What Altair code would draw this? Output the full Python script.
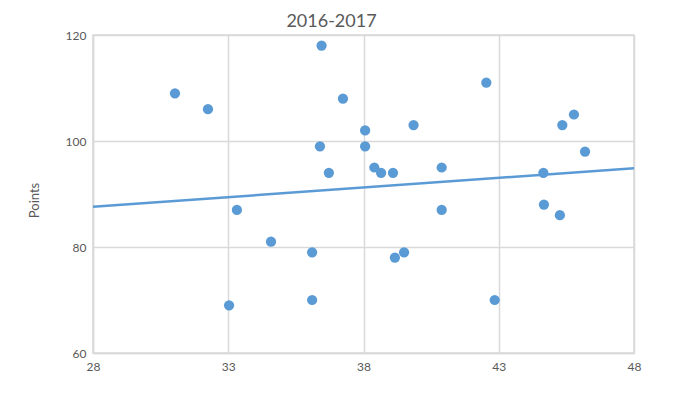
import altair as alt
import pandas as pd

# Scatter data
age = [31.03, 32.25, 33.03, 33.32, 34.58, 36.1, 36.1, 36.45, 36.39, 36.72,
       37.24, 38.06, 38.06, 38.4, 38.65, 39.09, 39.16, 39.5, 39.85, 40.89,
       40.89, 42.54, 42.85, 44.65, 44.67, 45.26, 45.35, 45.78, 46.19]
points = [109, 106, 69, 87, 81, 79, 70, 118, 99, 94,
          108, 102, 99, 95, 94, 94, 78, 79, 103, 95,
          87, 111, 70, 94, 88, 86, 103, 105, 98]

# Linear trend line endpoints
trend_x = [28, 48]
trend_y = [87.6, 94.85]

x_ticks = [28, 33, 38, 43, 48]
y_ticks = [60, 80, 100, 120]

df = pd.DataFrame({"x": age, "y": points})
tdf = pd.DataFrame({"x": trend_x, "y": trend_y})

BLUE = "#5b9bd5"
GRID = "#d9d9d9"
TXT = "#595959"
FONT = "Lato"

xenc = alt.X("x:Q",
             scale=alt.Scale(domain=[28, 48], nice=False, zero=False),
             axis=alt.Axis(values=x_ticks, title=None, grid=True, gridColor=GRID,
                           gridWidth=1.5, domainColor=GRID, domainWidth=1.5,
                           ticks=False, labelPadding=8,
                           labelFlush=False, labelColor=TXT, labelFont=FONT,
                           labelFontSize=12))
yenc = alt.Y("y:Q",
             scale=alt.Scale(domain=[60, 120], nice=False, zero=False),
             axis=alt.Axis(values=y_ticks, title="Points", grid=True, gridColor=GRID,
                           gridWidth=1.5, domainColor=GRID, domainWidth=1.5,
                           ticks=False, labelPadding=7,
                           labelColor=TXT, labelFont=FONT, labelFontSize=12,
                           titleColor=TXT, titleFont=FONT, titleFontSize=13,
                           titleFontWeight="normal", titlePadding=24, titleY=165))

trend = alt.Chart(tdf).mark_line(color=BLUE, strokeWidth=2.5).encode(x=xenc, y=yenc)
scatter = alt.Chart(df).mark_circle(color=BLUE, size=105, opacity=1).encode(x=xenc, y=yenc)

chart = (trend + scatter).properties(
    width=541,
    height=318,
    title=alt.TitleParams("2016-2017", fontSize=18, font=FONT, color=TXT,
                          fontWeight="normal", anchor="middle", frame="group",
                          baseline="alphabetic", offset=0, dy=16, dx=-32),
    autosize=alt.AutoSizeParams(type="none"),
    padding={"left": 85, "top": 27, "right": 58, "bottom": 33},
).configure_view(stroke=GRID, strokeWidth=1.5)

chart.save("out.html", embed_options={"renderer": "svg", "actions": False})
